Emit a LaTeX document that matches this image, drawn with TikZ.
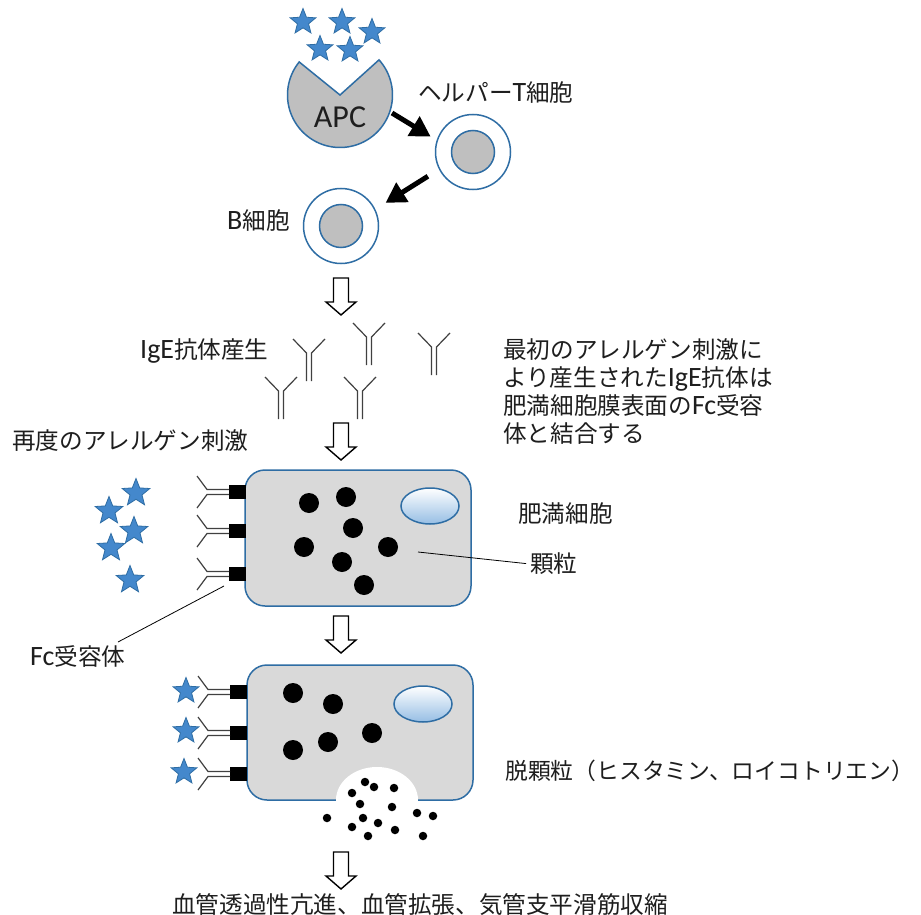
\documentclass[tikz,border=0pt]{standalone}
\usepackage{fontspec}
\newfontfamily\jpfont{Noto Sans CJK JP}
\newfontfamily\latinfont{Carlito}
\usetikzlibrary{shapes.geometric,arrows.meta}

\definecolor{edgeblue}{RGB}{46,109,164}
\definecolor{starblue}{RGB}{68,136,204}
\definecolor{cellgray}{RGB}{217,217,217}
\definecolor{cytogray}{RGB}{191,191,191}
\definecolor{nucblue}{RGB}{150,190,228}
\definecolor{inkgray}{RGB}{30,30,30}

\newcommand{\latn}[1]{{\latinfont\fontsize{28}{28}\selectfont #1}}

\tikzset{
  txt/.style={font=\jpfont\fontsize{23.6}{28}\selectfont, text=inkgray, inner sep=0pt, anchor=west},
  antigen/.style={star, star points=5, star point ratio=2.3, fill=starblue, draw=edgeblue,
                  line width=0.8, minimum size=#1, inner sep=0pt},
  antigen/.default=27,
  ringcell/.style={circle, draw=edgeblue, line width=1.5, fill=white, minimum size=75, inner sep=0pt},
  core/.style={circle, draw=edgeblue, line width=1.5, fill=cytogray, minimum size=43, inner sep=0pt},
  mastcell/.style={rectangle, draw=edgeblue, line width=1.5, fill=cellgray, rounded corners=20,
                   minimum width=226, inner sep=0pt},
  granule/.style={circle, fill=black, inner sep=0pt, minimum size=20},
  speck/.style={circle, fill=black, inner sep=0pt, minimum size=8.5},
  nucleus/.style={ellipse, draw=edgeblue, line width=1.5, top color=white, bottom color=nucblue,
                  minimum width=58, minimum height=36, inner sep=0pt},
  blockarrow/.style={draw=black, line width=1.4, fill=white, line join=miter},
  signal/.style={line width=5, -{Triangle[length=20, width=22]}},
  leader/.style={black, line width=0.8},
  stem/.style={draw=black!75, line width=1.2},
  downarrow/.pic={\draw[blockarrow] (-7.5,0) -- (-7.5,24) -- (-15,24) -- (0,37) -- (15,24) -- (7.5,24) -- (7.5,0) -- cycle;},
  antibody/.pic={
    \draw[stem] (-16,0) -- (-2.5,14) -- (-2.5,42);
    \draw[stem] (16,0) -- (2.5,14) -- (2.5,42);
  },
  receptor/.pic={
    \fill[black] (-17,-7) rectangle (0,7);
    \draw[stem] (-17,-2.5) -- (-39,-2.5) -- (-49,-16);
    \draw[stem] (-17,2.5) -- (-39,2.5) -- (-49,16);
  }
}

\begin{document}
\begin{tikzpicture}[x=1pt, y=-1pt]
\useasboundingbox (0,0) rectangle (921,915);
\fill[white] (0,0) rectangle (921,915);

% antigens above the APC
\foreach \p [count=\i] in {(303,22),(342,22),(372,32),(320,49),(350,50)}
  \node[antigen=27] (ag\i) at \p {};

% antigen presenting cell (notched disc)
\draw[draw=edgeblue, line width=1.5, fill=cytogray]
  (340,95) -- plot[domain=-42:219, samples=90] ({340+52.5*cos(\x)}, {95+52.5*sin(\x)}) -- cycle;
\node[inner sep=0pt, text=inkgray, font=\latinfont\fontsize{32}{32}\selectfont] (apc) at (340,117) {APC};
\coordinate (apcout) at (392,113);

% helper T cell and B cell
\node[ringcell] (tcell) at (473,152) {};
\node[core] (tcore) at (473,152) {};
\node[txt] (tlabel) at (418,93) {ヘルパー\latn{T}細胞};

\node[ringcell] (bcell) at (341,226) {};
\node[core] (bcore) at (341,226) {};
\node[txt] (blabel) at (227,221) {\latn{B}細胞};

\draw[signal, shorten >=7] (apcout) -- (tcell.162);
\draw[signal, shorten <=13, shorten >=12] (tcell.207) -- (bcell.26);

% step arrows
\pic at (341,278) {downarrow};
\pic at (341,423) {downarrow};
\pic at (341,616) {downarrow};
\pic at (341,852) {downarrow};

% IgE antibodies
\node[txt] (igelabel) at (140,351) {\latn{IgE}抗体産生};
\pic at (309,339) {antibody};
\pic at (369,323) {antibody};
\pic at (434,333) {antibody};
\pic at (281,377) {antibody};
\pic at (360,377) {antibody};

\node[txt, align=left] (note) at (503,392)
  {最初のアレルゲン刺激に\\より産生された\latn{IgE}抗体は\\肥満細胞膜表面の\latn{Fc}受容\\体と結合する};

% second exposure: free antigens
\node[txt] (againlabel) at (12,441) {再度のアレルゲン刺激};
\node[antigen=29] (fa1) at (136,493) {};
\node[antigen=29] (fa2) at (109,511) {};
\node[antigen=29] (fa3) at (134,531) {};
\node[antigen=29] (fa4) at (111,548) {};
\node[antigen=29] (fa5) at (130,580) {};

% mast cell with bound IgE
\node[mastcell, minimum height=136] (mast1) at (358,538) {};
\node[nucleus] (nuc1) at (430,506) {};
\foreach \p [count=\i] in {(309,503),(346,497),(353,528),(304,547),(342,562),(388,547),(364,585)}
  \node[granule] (ga\i) at \p {};
\pic at (246,492) {receptor};
\pic at (246,531) {receptor};
\pic at (246,574) {receptor};

\node[txt] (mastlabel) at (518,514) {肥満細胞};
\node[txt] (granlabel) at (530,564) {顆粒};
\coordinate (grantip) at (418,552);
\draw[leader, shorten <=4] (granlabel.west) -- (grantip);

\node[txt] (fclabel) at (30,656) {\latn{Fc}受容体};
\coordinate (fctail) at (118,642);
\coordinate (fchead) at (224,586);
\draw[leader] (fctail) -- (fchead);

% degranulating mast cell
\node[mastcell, minimum height=135] (mast2) at (360,732.5) {};
\node[nucleus] (nuc2) at (423,704) {};
\foreach \p [count=\i] in {(293,693),(333,704),(372,733),(328,742),(293,750)}
  \node[granule] (gb\i) at \p {};
\pic at (247,692) {receptor};
\pic at (247,733) {receptor};
\pic at (247,774) {receptor};
\node[antigen=27] (ba1) at (186,691) {};
\node[antigen=27] (ba2) at (186,731) {};
\node[antigen=27] (ba3) at (184,772) {};

\node[ellipse, fill=white, minimum width=82, minimum height=66, inner sep=0pt] (release) at (377,800) {};
\foreach \p [count=\i] in {(365,782),(374,787),(394,788),(352,793),(360,804),(392,807),(417,813),
    (433,816),(327,818),(363,818),(378,823),(352,827),(395,830),(368,836),(423,836)}
  \node[speck] (sp\i) at \p {};

\node[txt, font=\jpfont\fontsize{22.8}{28}\selectfont] (degranlabel) at (505,771) {脱顆粒（ヒスタミン、ロイコトリエン）};

\node[txt] (effectlabel) at (172,905) {血管透過性亢進、血管拡張、気管支平滑筋収縮};
\end{tikzpicture}
\end{document}
